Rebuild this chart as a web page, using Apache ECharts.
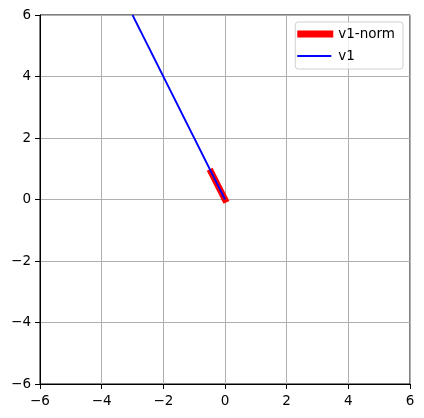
<!DOCTYPE html>
<html>
<head>
<meta charset="utf-8">
<script src="https://cdn.jsdelivr.net/npm/echarts@6/dist/echarts.min.js"></script>
<style>html,body{margin:0;padding:0;background:#fff}#c{width:424px;height:418px}</style>
</head>
<body>
<div id="c"></div>
<script>
const seriesNames = ['v1-norm', 'v1'];
const v1Norm = [[0, 0], [-0.45, 0.89]];
const v1 = [[0, 0], [-3, 6]];
const xTicks = [-6, -4, -2, 0, 2, 4, 6];
const yTicks = [-6, -4, -2, 0, 2, 4, 6];

const font = 'DejaVu Sans';
const chart = echarts.init(document.getElementById('c'), null, {renderer: 'canvas'});
const fmt = v => (v < 0 ? '\u2212' + Math.abs(v) : String(v));
const axisCommon = {
  type: 'value', min: xTicks[0], max: xTicks[xTicks.length - 1], interval: 2,
  axisLine: {show: true, onZero: false, lineStyle: {color: '#000', width: 1}},
  axisTick: {show: true, inside: false, length: 5, lineStyle: {color: '#000', width: 1}},
  axisLabel: {color: '#000', fontSize: 13.5, fontFamily: font, margin: 9, formatter: fmt},
  splitLine: {show: true, lineStyle: {color: '#b0b0b0', width: 1}}
};
chart.setOption({
  animation: false,
  backgroundColor: '#fff',
  grid: {left: 40, top: 15, right: 14, bottom: 34, show: true, borderColor: '#000', borderWidth: 1, backgroundColor: 'transparent'},
  xAxis: Object.assign({}, axisCommon, {axisLabel: Object.assign({}, axisCommon.axisLabel, {margin: 10})}),
  yAxis: Object.assign({}, axisCommon, {min: yTicks[0], max: yTicks[yTicks.length - 1]}),
  legend: {
    orient: 'vertical', right: 21, top: 22,
    itemWidth: 36, itemHeight: 14, itemGap: 8,
    padding: [5, 8, 6, 2],
    borderColor: '#d0d0d0', borderWidth: 1, borderRadius: 3,
    backgroundColor: 'rgba(255,255,255,0.8)',
    textStyle: {fontSize: 13.5, fontFamily: font, color: '#000'},
    data: [
      {name: seriesNames[0], icon: 'path://M0,0 L0,0 M0,3.5 L36,3.5 L36,10.5 L0,10.5 Z M0,14 L0,14', itemStyle: {color: '#ff0000'}},
      {name: seriesNames[1], icon: 'path://M0,0 L0,0 M0,6 L34,6 L34,8 L0,8 Z M36,14 L36,14', itemStyle: {color: '#0000ff'}}
    ]
  },
  series: [
    {name: seriesNames[0], type: 'line', data: v1Norm, symbol: 'none', clip: true,
     lineStyle: {color: '#ff0000', width: 6.5, cap: 'square'}, itemStyle: {color: '#ff0000'}},
    {name: seriesNames[1], type: 'line', data: v1, symbol: 'none', clip: true,
     lineStyle: {color: '#0000ff', width: 1.8}, itemStyle: {color: '#0000ff'}}
  ]
});
</script>
</body>
</html>
